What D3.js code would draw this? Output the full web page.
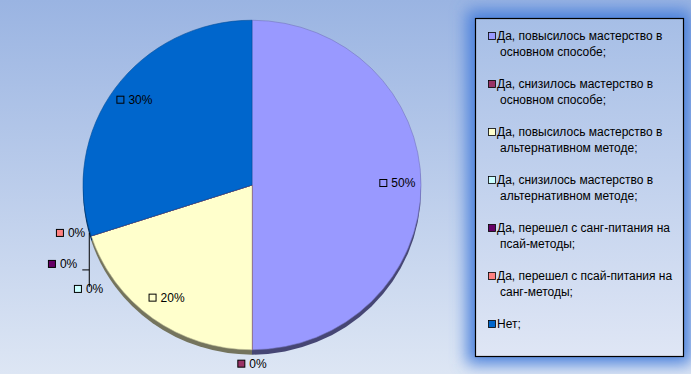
<!DOCTYPE html>
<meta charset="utf-8">
<style>
body { margin: 0; }
svg { display: block; font-family: "Liberation Sans", Arial, sans-serif; }
</style>
<svg width="691" height="374"></svg>
<script src="https://cdn.jsdelivr.net/npm/d3@7"></script>
<script>

// data
var categories = [
  "Да, повысилось мастерство в основном способе;",
  "Да, снизилось мастерство в основном способе;",
  "Да, повысилось мастерство в альтернативном методе;",
  "Да, снизилось мастерство в альтернативном методе;",
  "Да, перешел с санг-питания на псай-методы;",
  "Да, перешел с псай-питания на санг-методы;",
  "Нет;"
];
var legendLines = [
  ["Да, повысилось мастерство в", "основном способе;"],
  ["Да, снизилось мастерство в", "основном способе;"],
  ["Да, повысилось мастерство в", "альтернативном методе;"],
  ["Да, снизилось мастерство в", "альтернативном методе;"],
  ["Да, перешел с санг-питания на", "псай-методы;"],
  ["Да, перешел с псай-питания на", "санг-методы;"],
  ["Нет;"]
];
var values = [50, 0, 20, 0, 0, 0, 30];
var colors = ["#9999ff", "#993366", "#ffffcc", "#ccffff", "#660066", "#ff8080", "#0066cc"];

var svg = d3.select("svg"),
    width = +svg.attr("width"),
    height = +svg.attr("height");

var defs = svg.append("defs");
var bg = defs.append("linearGradient").attr("id", "bg")
  .attr("x1", 0).attr("y1", 0).attr("x2", 0).attr("y2", 1);
bg.append("stop").attr("offset", "0%").attr("stop-color", "#9ab4e2");
bg.append("stop").attr("offset", "100%").attr("stop-color", "#dde6f4");

var lg = defs.append("linearGradient").attr("id", "lg")
  .attr("x1", 0).attr("y1", 0).attr("x2", 0).attr("y2", 1);
lg.append("stop").attr("offset", "0%").attr("stop-color", "#a6bee6");
lg.append("stop").attr("offset", "100%").attr("stop-color", "#dfe6f5");

defs.append("filter").attr("id", "glow")
  .attr("x", "-30%").attr("y", "-30%").attr("width", "160%").attr("height", "160%")
  .append("feGaussianBlur").attr("stdDeviation", 8);

svg.append("rect").attr("width", width).attr("height", height).attr("fill", "url(#bg)");

// pie
var cx = 252, cy = 185, r = 169, sy = 0.975;
var pie = d3.pie().sort(null).value(function(d) { return d; });
var arcs = pie(values);
var arc = d3.arc().innerRadius(0).outerRadius(r);

var g = svg.append("g").attr("transform", "translate(" + cx + "," + cy + ") scale(1," + sy + ")");

// depth rim
g.append("g").attr("transform", "translate(0,5)")
  .selectAll("path").data(arcs).enter().append("path")
  .attr("d", arc)
  .attr("fill", function(d, i) { return d3.color(colors[i]).darker(2.2); });

g.append("g").selectAll("path").data(arcs).enter().append("path")
  .attr("d", arc)
  .attr("fill", function(d, i) { return colors[i]; })
  .attr("stroke", function(d, i) { return d3.color(colors[i]).darker(0.8); })
  .attr("stroke-width", 0.6);

// labels
var labelArc = d3.arc().innerRadius(r * 0.86).outerRadius(r * 0.86);
var pct = function(v) { return v + "%"; };

function drawLabel(x, y, i, anchorRight) {
  var t = svg.append("text")
    .attr("y", y + 4)
    .attr("font-size", 12)
    .attr("fill", "#000")
    .text(pct(values[i]));
  var tw = t.node().getComputedTextLength();
  var left = anchorRight ? x - tw - 12 : x - (tw + 12) / 2;
  t.attr("x", left + 12);
  svg.append("rect")
    .attr("x", left + 0.5).attr("y", y - 3.5)
    .attr("width", 7).attr("height", 7)
    .attr("fill", colors[i]).attr("stroke", "#000").attr("stroke-width", 1);
}

arcs.forEach(function(d, i) {
  if (values[i] > 0) {
    var c = labelArc.centroid(d);
    drawLabel(cx + c[0], cy + c[1] * sy - 2, i, false);
  }
});

// zero slices: bottom one and the stack at the left
var outerArc = d3.arc().innerRadius(r * 1.06).outerRadius(r * 1.06);
var cb = outerArc.centroid(arcs[1]);
drawLabel(cx + cb[0], cy + cb[1] * sy + 4, 1, false);

var edge = d3.arc().innerRadius(r).outerRadius(r).centroid({startAngle: arcs[3].startAngle, endAngle: arcs[3].startAngle});
var ex = cx + edge[0] - 2, ey = cy + edge[1] * sy - 3;
svg.append("path")
  .attr("d", "M" + ex + "," + ey + "V" + (ey + 54) + "M" + ex + "," + (ey + 37) + "H" + (ex - 7))
  .attr("stroke", "#000").attr("fill", "none").attr("stroke-width", 1);
drawLabel(ex - 4, ey, 5, true);
drawLabel(ex - 12, ey + 31, 4, true);
drawLabel(ex + 14, ey + 56, 3, true);

// legend
var lx = 475, ly = 18, lw = 208, lh = 338;
svg.append("rect").attr("x", lx - 8).attr("y", ly - 8).attr("width", lw + 16).attr("height", lh + 16)
  .attr("fill", "#4a80dc").attr("filter", "url(#glow)");
svg.append("rect").attr("x", lx + 0.5).attr("y", ly + 0.5).attr("width", lw).attr("height", lh)
  .attr("fill", "url(#lg)").attr("stroke", "#000").attr("stroke-width", 1.2);

var leg = svg.append("g").attr("font-size", 12).attr("fill", "#000");
legendLines.forEach(function(lines, i) {
  var y = ly + 18 + i * 48;
  leg.append("rect")
    .attr("x", lx + 13.5).attr("y", y - 3.5).attr("width", 7).attr("height", 7)
    .attr("fill", colors[i]).attr("stroke", "#000").attr("stroke-width", 0.8);
  lines.forEach(function(s, j) {
    leg.append("text").attr("x", j === 0 ? lx + 22 : lx + 25).attr("y", y + 4 + j * 16).text(s);
  });
  leg.append("title").text(categories[i]);
});

</script>
